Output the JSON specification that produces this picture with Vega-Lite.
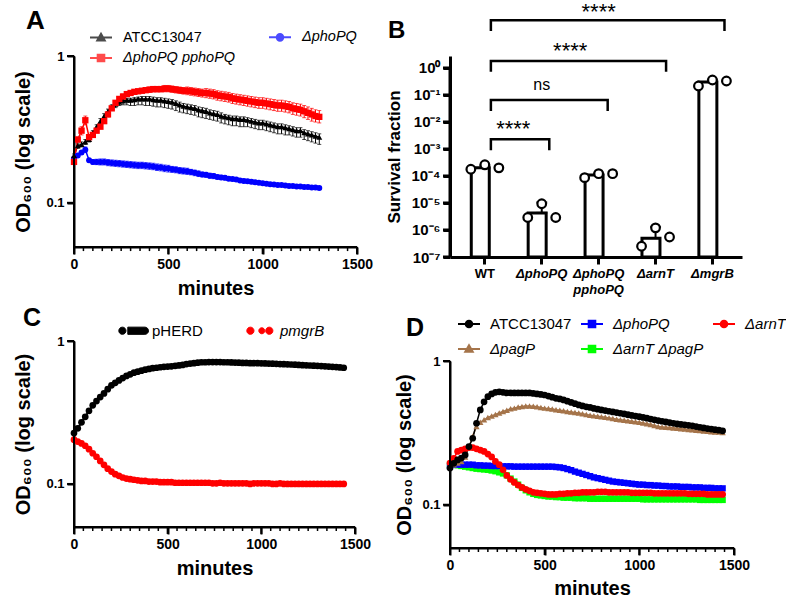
{
"$schema":"https://vega.github.io/schema/vega-lite/v6.json",
"background":"white",
"padding":{"left":13,"top":0,"right":0,"bottom":0},
"config":{
 "font":"Liberation Sans",
 "view":{"stroke":null},
 "axis":{"gridOpacity":0,"labelColor":"black","labelFont":"Liberation Sans","labelFontWeight":"bold","labelFontSize":14,"labelPadding":3,"titleColor":"black","titleFont":"Liberation Sans","titleFontWeight":"bold","titleFontSize":20,"domainColor":"black","tickColor":"black","zindex":1},
 "legend":{"labelFont":"Liberation Sans","labelColor":"black","labelFontWeight":"normal"},
 "title":{"font":"Liberation Sans","fontWeight":"bold","color":"black","anchor":"start","frame":"group","baseline":"alphabetic"}
},
"datasets":{
"majorTicks":[{"t":0},{"t":500},{"t":1000},{"t":1500}],
"minorTicks":[{"t":50},{"t":100},{"t":150},{"t":200},{"t":250},{"t":300},{"t":350},{"t":400},{"t":450},{"t":550},{"t":600},{"t":650},{"t":700},{"t":750},{"t":800},{"t":850},{"t":900},{"t":950},{"t":1050},{"t":1100},{"t":1150},{"t":1200},{"t":1250},{"t":1300},{"t":1350},{"t":1400},{"t":1450}],
"odTicks":[{"v":0.1},{"v":1}],
"survTicks":[{"v":0.0000001},{"v":0.000001},{"v":0.00001},{"v":0.0001},{"v":0.001},{"v":0.01},{"v":0.1},{"v":1}],
"one":[{"n":1}],
"growthA":[
{"s":"ATCC13047","t":0,"y":0.21,"lo":0.205,"hi":0.215},{"s":"ATCC13047","t":20,"y":0.245,"lo":0.235,"hi":0.255},{"s":"ATCC13047","t":40,"y":0.25,"lo":0.24,"hi":0.26},{"s":"ATCC13047","t":60,"y":0.26,"lo":0.25,"hi":0.27},{"s":"ATCC13047","t":80,"y":0.27,"lo":0.26,"hi":0.28},{"s":"ATCC13047","t":100,"y":0.3,"lo":0.285,"hi":0.31},{"s":"ATCC13047","t":120,"y":0.33,"lo":0.315,"hi":0.34},{"s":"ATCC13047","t":140,"y":0.36,"lo":0.345,"hi":0.375},{"s":"ATCC13047","t":160,"y":0.39,"lo":0.37,"hi":0.405},{"s":"ATCC13047","t":180,"y":0.42,"lo":0.4,"hi":0.435},{"s":"ATCC13047","t":200,"y":0.45,"lo":0.43,"hi":0.465},{"s":"ATCC13047","t":220,"y":0.47,"lo":0.445,"hi":0.485},{"s":"ATCC13047","t":240,"y":0.485,"lo":0.46,"hi":0.5},{"s":"ATCC13047","t":260,"y":0.495,"lo":0.465,"hi":0.51},{"s":"ATCC13047","t":280,"y":0.5,"lo":0.465,"hi":0.515},{"s":"ATCC13047","t":300,"y":0.5,"lo":0.46,"hi":0.515},{"s":"ATCC13047","t":320,"y":0.505,"lo":0.46,"hi":0.52},{"s":"ATCC13047","t":340,"y":0.51,"lo":0.465,"hi":0.525},{"s":"ATCC13047","t":360,"y":0.51,"lo":0.465,"hi":0.53},{"s":"ATCC13047","t":380,"y":0.51,"lo":0.46,"hi":0.53},{"s":"ATCC13047","t":400,"y":0.51,"lo":0.46,"hi":0.53},{"s":"ATCC13047","t":420,"y":0.505,"lo":0.455,"hi":0.525},{"s":"ATCC13047","t":440,"y":0.5,"lo":0.45,"hi":0.52},{"s":"ATCC13047","t":460,"y":0.5,"lo":0.45,"hi":0.52},{"s":"ATCC13047","t":480,"y":0.495,"lo":0.445,"hi":0.515},{"s":"ATCC13047","t":500,"y":0.49,"lo":0.44,"hi":0.51},{"s":"ATCC13047","t":520,"y":0.485,"lo":0.435,"hi":0.505},{"s":"ATCC13047","t":540,"y":0.475,"lo":0.425,"hi":0.495},{"s":"ATCC13047","t":560,"y":0.465,"lo":0.415,"hi":0.485},{"s":"ATCC13047","t":580,"y":0.455,"lo":0.41,"hi":0.475},{"s":"ATCC13047","t":600,"y":0.45,"lo":0.405,"hi":0.47},{"s":"ATCC13047","t":620,"y":0.445,"lo":0.4,"hi":0.465},{"s":"ATCC13047","t":640,"y":0.44,"lo":0.395,"hi":0.46},{"s":"ATCC13047","t":660,"y":0.43,"lo":0.385,"hi":0.45},{"s":"ATCC13047","t":680,"y":0.425,"lo":0.38,"hi":0.445},{"s":"ATCC13047","t":700,"y":0.42,"lo":0.375,"hi":0.44},{"s":"ATCC13047","t":720,"y":0.41,"lo":0.37,"hi":0.43},{"s":"ATCC13047","t":740,"y":0.405,"lo":0.365,"hi":0.425},{"s":"ATCC13047","t":760,"y":0.4,"lo":0.36,"hi":0.42},{"s":"ATCC13047","t":780,"y":0.39,"lo":0.35,"hi":0.41},{"s":"ATCC13047","t":800,"y":0.385,"lo":0.345,"hi":0.4},{"s":"ATCC13047","t":820,"y":0.38,"lo":0.34,"hi":0.395},{"s":"ATCC13047","t":840,"y":0.375,"lo":0.335,"hi":0.39},{"s":"ATCC13047","t":860,"y":0.375,"lo":0.335,"hi":0.39},{"s":"ATCC13047","t":880,"y":0.37,"lo":0.33,"hi":0.385},{"s":"ATCC13047","t":900,"y":0.37,"lo":0.33,"hi":0.385},{"s":"ATCC13047","t":920,"y":0.365,"lo":0.33,"hi":0.38},{"s":"ATCC13047","t":940,"y":0.36,"lo":0.325,"hi":0.375},{"s":"ATCC13047","t":960,"y":0.355,"lo":0.32,"hi":0.37},{"s":"ATCC13047","t":980,"y":0.35,"lo":0.315,"hi":0.365},{"s":"ATCC13047","t":1000,"y":0.35,"lo":0.315,"hi":0.365},{"s":"ATCC13047","t":1020,"y":0.345,"lo":0.31,"hi":0.36},{"s":"ATCC13047","t":1040,"y":0.34,"lo":0.305,"hi":0.355},{"s":"ATCC13047","t":1060,"y":0.335,"lo":0.3,"hi":0.35},{"s":"ATCC13047","t":1080,"y":0.33,"lo":0.295,"hi":0.345},{"s":"ATCC13047","t":1100,"y":0.33,"lo":0.295,"hi":0.345},{"s":"ATCC13047","t":1120,"y":0.325,"lo":0.29,"hi":0.34},{"s":"ATCC13047","t":1140,"y":0.32,"lo":0.29,"hi":0.335},{"s":"ATCC13047","t":1160,"y":0.315,"lo":0.285,"hi":0.33},{"s":"ATCC13047","t":1180,"y":0.31,"lo":0.28,"hi":0.325},{"s":"ATCC13047","t":1200,"y":0.31,"lo":0.28,"hi":0.325},{"s":"ATCC13047","t":1220,"y":0.3,"lo":0.27,"hi":0.315},{"s":"ATCC13047","t":1240,"y":0.295,"lo":0.265,"hi":0.31},{"s":"ATCC13047","t":1260,"y":0.29,"lo":0.26,"hi":0.305},{"s":"ATCC13047","t":1280,"y":0.285,"lo":0.255,"hi":0.3},{"s":"ATCC13047","t":1300,"y":0.28,"lo":0.25,"hi":0.295},
{"s":"ΔphoPQ","t":0,"y":0.2,"lo":0.195,"hi":0.205},{"s":"ΔphoPQ","t":20,"y":0.21,"lo":0.205,"hi":0.215},{"s":"ΔphoPQ","t":40,"y":0.22,"lo":0.215,"hi":0.225},{"s":"ΔphoPQ","t":60,"y":0.23,"lo":0.22,"hi":0.24},{"s":"ΔphoPQ","t":80,"y":0.195,"lo":0.19,"hi":0.2},{"s":"ΔphoPQ","t":100,"y":0.19,"lo":0.183,"hi":0.197},{"s":"ΔphoPQ","t":120,"y":0.19,"lo":0.182,"hi":0.198},{"s":"ΔphoPQ","t":140,"y":0.19,"lo":0.181,"hi":0.199},{"s":"ΔphoPQ","t":160,"y":0.19,"lo":0.181,"hi":0.199},{"s":"ΔphoPQ","t":180,"y":0.188,"lo":0.179,"hi":0.197},{"s":"ΔphoPQ","t":200,"y":0.187,"lo":0.178,"hi":0.196},{"s":"ΔphoPQ","t":220,"y":0.186,"lo":0.177,"hi":0.195},{"s":"ΔphoPQ","t":240,"y":0.185,"lo":0.176,"hi":0.194},{"s":"ΔphoPQ","t":260,"y":0.184,"lo":0.175,"hi":0.193},{"s":"ΔphoPQ","t":280,"y":0.183,"lo":0.174,"hi":0.192},{"s":"ΔphoPQ","t":300,"y":0.182,"lo":0.173,"hi":0.191},{"s":"ΔphoPQ","t":320,"y":0.181,"lo":0.172,"hi":0.19},{"s":"ΔphoPQ","t":340,"y":0.18,"lo":0.171,"hi":0.189},{"s":"ΔphoPQ","t":360,"y":0.18,"lo":0.171,"hi":0.189},{"s":"ΔphoPQ","t":380,"y":0.179,"lo":0.17,"hi":0.188},{"s":"ΔphoPQ","t":400,"y":0.178,"lo":0.169,"hi":0.187},{"s":"ΔphoPQ","t":420,"y":0.177,"lo":0.168,"hi":0.186},{"s":"ΔphoPQ","t":440,"y":0.175,"lo":0.166,"hi":0.184},{"s":"ΔphoPQ","t":460,"y":0.174,"lo":0.165,"hi":0.183},{"s":"ΔphoPQ","t":480,"y":0.172,"lo":0.163,"hi":0.181},{"s":"ΔphoPQ","t":500,"y":0.171,"lo":0.162,"hi":0.18},{"s":"ΔphoPQ","t":520,"y":0.169,"lo":0.161,"hi":0.177},{"s":"ΔphoPQ","t":540,"y":0.168,"lo":0.16,"hi":0.176},{"s":"ΔphoPQ","t":560,"y":0.166,"lo":0.158,"hi":0.174},{"s":"ΔphoPQ","t":580,"y":0.165,"lo":0.157,"hi":0.173},{"s":"ΔphoPQ","t":600,"y":0.164,"lo":0.156,"hi":0.172},{"s":"ΔphoPQ","t":620,"y":0.162,"lo":0.155,"hi":0.169},{"s":"ΔphoPQ","t":640,"y":0.16,"lo":0.153,"hi":0.167},{"s":"ΔphoPQ","t":660,"y":0.158,"lo":0.151,"hi":0.165},{"s":"ΔphoPQ","t":680,"y":0.156,"lo":0.15,"hi":0.162},{"s":"ΔphoPQ","t":700,"y":0.155,"lo":0.149,"hi":0.161},{"s":"ΔphoPQ","t":720,"y":0.153,"lo":0.147,"hi":0.159},{"s":"ΔphoPQ","t":740,"y":0.152,"lo":0.146,"hi":0.158},{"s":"ΔphoPQ","t":760,"y":0.15,"lo":0.145,"hi":0.155},{"s":"ΔphoPQ","t":780,"y":0.149,"lo":0.144,"hi":0.154},{"s":"ΔphoPQ","t":800,"y":0.148,"lo":0.143,"hi":0.153},{"s":"ΔphoPQ","t":820,"y":0.146,"lo":0.142,"hi":0.15},{"s":"ΔphoPQ","t":840,"y":0.145,"lo":0.141,"hi":0.149},{"s":"ΔphoPQ","t":860,"y":0.144,"lo":0.14,"hi":0.148},{"s":"ΔphoPQ","t":880,"y":0.142,"lo":0.138,"hi":0.146},{"s":"ΔphoPQ","t":900,"y":0.141,"lo":0.137,"hi":0.145},{"s":"ΔphoPQ","t":920,"y":0.14,"lo":0.136,"hi":0.144},{"s":"ΔphoPQ","t":940,"y":0.139,"lo":0.135,"hi":0.143},{"s":"ΔphoPQ","t":960,"y":0.138,"lo":0.134,"hi":0.142},{"s":"ΔphoPQ","t":980,"y":0.137,"lo":0.134,"hi":0.14},{"s":"ΔphoPQ","t":1000,"y":0.136,"lo":0.133,"hi":0.139},{"s":"ΔphoPQ","t":1020,"y":0.135,"lo":0.132,"hi":0.138},{"s":"ΔphoPQ","t":1040,"y":0.134,"lo":0.131,"hi":0.137},{"s":"ΔphoPQ","t":1060,"y":0.133,"lo":0.13,"hi":0.136},{"s":"ΔphoPQ","t":1080,"y":0.132,"lo":0.129,"hi":0.135},{"s":"ΔphoPQ","t":1100,"y":0.132,"lo":0.129,"hi":0.135},{"s":"ΔphoPQ","t":1120,"y":0.131,"lo":0.128,"hi":0.134},{"s":"ΔphoPQ","t":1140,"y":0.13,"lo":0.127,"hi":0.133},{"s":"ΔphoPQ","t":1160,"y":0.13,"lo":0.127,"hi":0.133},{"s":"ΔphoPQ","t":1180,"y":0.129,"lo":0.126,"hi":0.132},{"s":"ΔphoPQ","t":1200,"y":0.129,"lo":0.126,"hi":0.132},{"s":"ΔphoPQ","t":1220,"y":0.128,"lo":0.125,"hi":0.131},{"s":"ΔphoPQ","t":1240,"y":0.128,"lo":0.125,"hi":0.131},{"s":"ΔphoPQ","t":1260,"y":0.127,"lo":0.124,"hi":0.13},{"s":"ΔphoPQ","t":1280,"y":0.127,"lo":0.124,"hi":0.13},{"s":"ΔphoPQ","t":1300,"y":0.126,"lo":0.123,"hi":0.129},
{"s":"ΔphoPQ pphoPQ","t":0,"y":0.19,"lo":0.185,"hi":0.195},{"s":"ΔphoPQ pphoPQ","t":20,"y":0.27,"lo":0.26,"hi":0.28},{"s":"ΔphoPQ pphoPQ","t":40,"y":0.31,"lo":0.29,"hi":0.33},{"s":"ΔphoPQ pphoPQ","t":60,"y":0.365,"lo":0.34,"hi":0.39},{"s":"ΔphoPQ pphoPQ","t":80,"y":0.28,"lo":0.27,"hi":0.29},{"s":"ΔphoPQ pphoPQ","t":100,"y":0.29,"lo":0.28,"hi":0.3},{"s":"ΔphoPQ pphoPQ","t":120,"y":0.31,"lo":0.3,"hi":0.32},{"s":"ΔphoPQ pphoPQ","t":140,"y":0.33,"lo":0.32,"hi":0.34},{"s":"ΔphoPQ pphoPQ","t":160,"y":0.36,"lo":0.35,"hi":0.37},{"s":"ΔphoPQ pphoPQ","t":180,"y":0.4,"lo":0.385,"hi":0.415},{"s":"ΔphoPQ pphoPQ","t":200,"y":0.44,"lo":0.425,"hi":0.455},{"s":"ΔphoPQ pphoPQ","t":220,"y":0.48,"lo":0.465,"hi":0.495},{"s":"ΔphoPQ pphoPQ","t":240,"y":0.51,"lo":0.49,"hi":0.53},{"s":"ΔphoPQ pphoPQ","t":260,"y":0.53,"lo":0.51,"hi":0.55},{"s":"ΔphoPQ pphoPQ","t":280,"y":0.55,"lo":0.53,"hi":0.57},{"s":"ΔphoPQ pphoPQ","t":300,"y":0.56,"lo":0.54,"hi":0.58},{"s":"ΔphoPQ pphoPQ","t":320,"y":0.57,"lo":0.55,"hi":0.59},{"s":"ΔphoPQ pphoPQ","t":340,"y":0.575,"lo":0.555,"hi":0.595},{"s":"ΔphoPQ pphoPQ","t":360,"y":0.58,"lo":0.56,"hi":0.6},{"s":"ΔphoPQ pphoPQ","t":380,"y":0.585,"lo":0.565,"hi":0.605},{"s":"ΔphoPQ pphoPQ","t":400,"y":0.59,"lo":0.565,"hi":0.615},{"s":"ΔphoPQ pphoPQ","t":420,"y":0.595,"lo":0.57,"hi":0.62},{"s":"ΔphoPQ pphoPQ","t":440,"y":0.595,"lo":0.57,"hi":0.62},{"s":"ΔphoPQ pphoPQ","t":460,"y":0.595,"lo":0.57,"hi":0.62},{"s":"ΔphoPQ pphoPQ","t":480,"y":0.6,"lo":0.57,"hi":0.63},{"s":"ΔphoPQ pphoPQ","t":500,"y":0.6,"lo":0.57,"hi":0.63},{"s":"ΔphoPQ pphoPQ","t":520,"y":0.595,"lo":0.565,"hi":0.625},{"s":"ΔphoPQ pphoPQ","t":540,"y":0.59,"lo":0.56,"hi":0.62},{"s":"ΔphoPQ pphoPQ","t":560,"y":0.585,"lo":0.555,"hi":0.615},{"s":"ΔphoPQ pphoPQ","t":580,"y":0.58,"lo":0.55,"hi":0.61},{"s":"ΔphoPQ pphoPQ","t":600,"y":0.58,"lo":0.545,"hi":0.615},{"s":"ΔphoPQ pphoPQ","t":620,"y":0.575,"lo":0.54,"hi":0.61},{"s":"ΔphoPQ pphoPQ","t":640,"y":0.57,"lo":0.535,"hi":0.605},{"s":"ΔphoPQ pphoPQ","t":660,"y":0.565,"lo":0.53,"hi":0.6},{"s":"ΔphoPQ pphoPQ","t":680,"y":0.56,"lo":0.525,"hi":0.595},{"s":"ΔphoPQ pphoPQ","t":700,"y":0.56,"lo":0.52,"hi":0.6},{"s":"ΔphoPQ pphoPQ","t":720,"y":0.555,"lo":0.515,"hi":0.595},{"s":"ΔphoPQ pphoPQ","t":740,"y":0.55,"lo":0.51,"hi":0.59},{"s":"ΔphoPQ pphoPQ","t":760,"y":0.54,"lo":0.5,"hi":0.58},{"s":"ΔphoPQ pphoPQ","t":780,"y":0.535,"lo":0.495,"hi":0.575},{"s":"ΔphoPQ pphoPQ","t":800,"y":0.53,"lo":0.49,"hi":0.57},{"s":"ΔphoPQ pphoPQ","t":820,"y":0.525,"lo":0.485,"hi":0.565},{"s":"ΔphoPQ pphoPQ","t":840,"y":0.515,"lo":0.475,"hi":0.555},{"s":"ΔphoPQ pphoPQ","t":860,"y":0.51,"lo":0.47,"hi":0.55},{"s":"ΔphoPQ pphoPQ","t":880,"y":0.505,"lo":0.465,"hi":0.545},{"s":"ΔphoPQ pphoPQ","t":900,"y":0.5,"lo":0.46,"hi":0.54},{"s":"ΔphoPQ pphoPQ","t":920,"y":0.495,"lo":0.455,"hi":0.535},{"s":"ΔphoPQ pphoPQ","t":940,"y":0.49,"lo":0.45,"hi":0.53},{"s":"ΔphoPQ pphoPQ","t":960,"y":0.485,"lo":0.445,"hi":0.525},{"s":"ΔphoPQ pphoPQ","t":980,"y":0.48,"lo":0.44,"hi":0.52},{"s":"ΔphoPQ pphoPQ","t":1000,"y":0.48,"lo":0.44,"hi":0.52},{"s":"ΔphoPQ pphoPQ","t":1020,"y":0.475,"lo":0.435,"hi":0.515},{"s":"ΔphoPQ pphoPQ","t":1040,"y":0.47,"lo":0.43,"hi":0.51},{"s":"ΔphoPQ pphoPQ","t":1060,"y":0.465,"lo":0.425,"hi":0.505},{"s":"ΔphoPQ pphoPQ","t":1080,"y":0.46,"lo":0.42,"hi":0.5},{"s":"ΔphoPQ pphoPQ","t":1100,"y":0.46,"lo":0.42,"hi":0.5},{"s":"ΔphoPQ pphoPQ","t":1120,"y":0.455,"lo":0.415,"hi":0.495},{"s":"ΔphoPQ pphoPQ","t":1140,"y":0.45,"lo":0.41,"hi":0.49},{"s":"ΔphoPQ pphoPQ","t":1160,"y":0.44,"lo":0.4,"hi":0.48},{"s":"ΔphoPQ pphoPQ","t":1180,"y":0.435,"lo":0.395,"hi":0.475},{"s":"ΔphoPQ pphoPQ","t":1200,"y":0.43,"lo":0.39,"hi":0.47},{"s":"ΔphoPQ pphoPQ","t":1220,"y":0.42,"lo":0.38,"hi":0.46},{"s":"ΔphoPQ pphoPQ","t":1240,"y":0.41,"lo":0.37,"hi":0.45},{"s":"ΔphoPQ pphoPQ","t":1260,"y":0.4,"lo":0.36,"hi":0.44},{"s":"ΔphoPQ pphoPQ","t":1280,"y":0.39,"lo":0.355,"hi":0.43},{"s":"ΔphoPQ pphoPQ","t":1300,"y":0.385,"lo":0.35,"hi":0.425}
],
"growthC":[
{"s":"pHERD","t":0,"y":0.227},{"s":"pHERD","t":20,"y":0.245},{"s":"pHERD","t":40,"y":0.27},{"s":"pHERD","t":60,"y":0.295},{"s":"pHERD","t":80,"y":0.325},{"s":"pHERD","t":100,"y":0.355},{"s":"pHERD","t":120,"y":0.38},{"s":"pHERD","t":140,"y":0.405},{"s":"pHERD","t":160,"y":0.43},{"s":"pHERD","t":180,"y":0.46},{"s":"pHERD","t":200,"y":0.49},{"s":"pHERD","t":220,"y":0.51},{"s":"pHERD","t":240,"y":0.53},{"s":"pHERD","t":260,"y":0.55},{"s":"pHERD","t":280,"y":0.57},{"s":"pHERD","t":300,"y":0.585},{"s":"pHERD","t":320,"y":0.6},{"s":"pHERD","t":340,"y":0.61},{"s":"pHERD","t":360,"y":0.62},{"s":"pHERD","t":380,"y":0.63},{"s":"pHERD","t":400,"y":0.638},{"s":"pHERD","t":420,"y":0.645},{"s":"pHERD","t":440,"y":0.65},{"s":"pHERD","t":460,"y":0.655},{"s":"pHERD","t":480,"y":0.66},{"s":"pHERD","t":500,"y":0.662},{"s":"pHERD","t":520,"y":0.665},{"s":"pHERD","t":540,"y":0.67},{"s":"pHERD","t":560,"y":0.675},{"s":"pHERD","t":580,"y":0.68},{"s":"pHERD","t":600,"y":0.69},{"s":"pHERD","t":620,"y":0.695},{"s":"pHERD","t":640,"y":0.7},{"s":"pHERD","t":660,"y":0.705},{"s":"pHERD","t":680,"y":0.71},{"s":"pHERD","t":700,"y":0.71},{"s":"pHERD","t":720,"y":0.712},{"s":"pHERD","t":740,"y":0.712},{"s":"pHERD","t":760,"y":0.712},{"s":"pHERD","t":780,"y":0.712},{"s":"pHERD","t":800,"y":0.71},{"s":"pHERD","t":820,"y":0.71},{"s":"pHERD","t":840,"y":0.708},{"s":"pHERD","t":860,"y":0.707},{"s":"pHERD","t":880,"y":0.705},{"s":"pHERD","t":900,"y":0.703},{"s":"pHERD","t":920,"y":0.703},{"s":"pHERD","t":940,"y":0.7},{"s":"pHERD","t":960,"y":0.7},{"s":"pHERD","t":980,"y":0.7},{"s":"pHERD","t":1000,"y":0.698},{"s":"pHERD","t":1020,"y":0.697},{"s":"pHERD","t":1040,"y":0.695},{"s":"pHERD","t":1060,"y":0.694},{"s":"pHERD","t":1080,"y":0.692},{"s":"pHERD","t":1100,"y":0.69},{"s":"pHERD","t":1120,"y":0.688},{"s":"pHERD","t":1140,"y":0.687},{"s":"pHERD","t":1160,"y":0.685},{"s":"pHERD","t":1180,"y":0.683},{"s":"pHERD","t":1200,"y":0.68},{"s":"pHERD","t":1220,"y":0.678},{"s":"pHERD","t":1240,"y":0.676},{"s":"pHERD","t":1260,"y":0.674},{"s":"pHERD","t":1280,"y":0.672},{"s":"pHERD","t":1300,"y":0.67},{"s":"pHERD","t":1320,"y":0.668},{"s":"pHERD","t":1340,"y":0.665},{"s":"pHERD","t":1360,"y":0.662},{"s":"pHERD","t":1380,"y":0.66},{"s":"pHERD","t":1400,"y":0.657},{"s":"pHERD","t":1420,"y":0.653},{"s":"pHERD","t":1440,"y":0.65},
{"s":"pmgrB","t":0,"y":0.204},{"s":"pmgrB","t":20,"y":0.198},{"s":"pmgrB","t":40,"y":0.192},{"s":"pmgrB","t":60,"y":0.185},{"s":"pmgrB","t":80,"y":0.175},{"s":"pmgrB","t":100,"y":0.164},{"s":"pmgrB","t":120,"y":0.155},{"s":"pmgrB","t":140,"y":0.145},{"s":"pmgrB","t":160,"y":0.136},{"s":"pmgrB","t":180,"y":0.128},{"s":"pmgrB","t":200,"y":0.122},{"s":"pmgrB","t":220,"y":0.117},{"s":"pmgrB","t":240,"y":0.114},{"s":"pmgrB","t":260,"y":0.111},{"s":"pmgrB","t":280,"y":0.109},{"s":"pmgrB","t":300,"y":0.108},{"s":"pmgrB","t":320,"y":0.107},{"s":"pmgrB","t":340,"y":0.106},{"s":"pmgrB","t":360,"y":0.105},{"s":"pmgrB","t":380,"y":0.105},{"s":"pmgrB","t":400,"y":0.104},{"s":"pmgrB","t":420,"y":0.104},{"s":"pmgrB","t":440,"y":0.104},{"s":"pmgrB","t":460,"y":0.103},{"s":"pmgrB","t":480,"y":0.103},{"s":"pmgrB","t":500,"y":0.103},{"s":"pmgrB","t":520,"y":0.103},{"s":"pmgrB","t":540,"y":0.102},{"s":"pmgrB","t":560,"y":0.102},{"s":"pmgrB","t":580,"y":0.102},{"s":"pmgrB","t":600,"y":0.102},{"s":"pmgrB","t":620,"y":0.102},{"s":"pmgrB","t":640,"y":0.102},{"s":"pmgrB","t":660,"y":0.102},{"s":"pmgrB","t":680,"y":0.102},{"s":"pmgrB","t":700,"y":0.102},{"s":"pmgrB","t":720,"y":0.102},{"s":"pmgrB","t":740,"y":0.101},{"s":"pmgrB","t":760,"y":0.101},{"s":"pmgrB","t":780,"y":0.102},{"s":"pmgrB","t":800,"y":0.101},{"s":"pmgrB","t":820,"y":0.101},{"s":"pmgrB","t":840,"y":0.101},{"s":"pmgrB","t":860,"y":0.101},{"s":"pmgrB","t":880,"y":0.101},{"s":"pmgrB","t":900,"y":0.101},{"s":"pmgrB","t":920,"y":0.101},{"s":"pmgrB","t":940,"y":0.1},{"s":"pmgrB","t":960,"y":0.101},{"s":"pmgrB","t":980,"y":0.101},{"s":"pmgrB","t":1000,"y":0.101},{"s":"pmgrB","t":1020,"y":0.101},{"s":"pmgrB","t":1040,"y":0.101},{"s":"pmgrB","t":1060,"y":0.1},{"s":"pmgrB","t":1080,"y":0.1},{"s":"pmgrB","t":1100,"y":0.101},{"s":"pmgrB","t":1120,"y":0.1},{"s":"pmgrB","t":1140,"y":0.1},{"s":"pmgrB","t":1160,"y":0.1},{"s":"pmgrB","t":1180,"y":0.1},{"s":"pmgrB","t":1200,"y":0.1},{"s":"pmgrB","t":1220,"y":0.1},{"s":"pmgrB","t":1240,"y":0.1},{"s":"pmgrB","t":1260,"y":0.1},{"s":"pmgrB","t":1280,"y":0.1},{"s":"pmgrB","t":1300,"y":0.1},{"s":"pmgrB","t":1320,"y":0.1},{"s":"pmgrB","t":1340,"y":0.1},{"s":"pmgrB","t":1360,"y":0.1},{"s":"pmgrB","t":1380,"y":0.1},{"s":"pmgrB","t":1400,"y":0.1},{"s":"pmgrB","t":1420,"y":0.1},{"s":"pmgrB","t":1440,"y":0.1}
],
"growthD":[
{"s":"ΔarnT ΔpagP","t":0,"y":0.19},{"s":"ΔarnT ΔpagP","t":20,"y":0.19},{"s":"ΔarnT ΔpagP","t":40,"y":0.188},{"s":"ΔarnT ΔpagP","t":60,"y":0.186},{"s":"ΔarnT ΔpagP","t":80,"y":0.184},{"s":"ΔarnT ΔpagP","t":100,"y":0.182},{"s":"ΔarnT ΔpagP","t":120,"y":0.18},{"s":"ΔarnT ΔpagP","t":140,"y":0.178},{"s":"ΔarnT ΔpagP","t":160,"y":0.177},{"s":"ΔarnT ΔpagP","t":180,"y":0.176},{"s":"ΔarnT ΔpagP","t":200,"y":0.175},{"s":"ΔarnT ΔpagP","t":220,"y":0.173},{"s":"ΔarnT ΔpagP","t":240,"y":0.171},{"s":"ΔarnT ΔpagP","t":260,"y":0.168},{"s":"ΔarnT ΔpagP","t":280,"y":0.165},{"s":"ΔarnT ΔpagP","t":300,"y":0.16},{"s":"ΔarnT ΔpagP","t":320,"y":0.152},{"s":"ΔarnT ΔpagP","t":340,"y":0.145},{"s":"ΔarnT ΔpagP","t":360,"y":0.138},{"s":"ΔarnT ΔpagP","t":380,"y":0.131},{"s":"ΔarnT ΔpagP","t":400,"y":0.126},{"s":"ΔarnT ΔpagP","t":420,"y":0.122},{"s":"ΔarnT ΔpagP","t":440,"y":0.119},{"s":"ΔarnT ΔpagP","t":460,"y":0.117},{"s":"ΔarnT ΔpagP","t":480,"y":0.116},{"s":"ΔarnT ΔpagP","t":500,"y":0.115},{"s":"ΔarnT ΔpagP","t":520,"y":0.114},{"s":"ΔarnT ΔpagP","t":540,"y":0.114},{"s":"ΔarnT ΔpagP","t":560,"y":0.113},{"s":"ΔarnT ΔpagP","t":580,"y":0.113},{"s":"ΔarnT ΔpagP","t":600,"y":0.112},{"s":"ΔarnT ΔpagP","t":620,"y":0.112},{"s":"ΔarnT ΔpagP","t":640,"y":0.112},{"s":"ΔarnT ΔpagP","t":660,"y":0.111},{"s":"ΔarnT ΔpagP","t":680,"y":0.111},{"s":"ΔarnT ΔpagP","t":700,"y":0.111},{"s":"ΔarnT ΔpagP","t":720,"y":0.111},{"s":"ΔarnT ΔpagP","t":740,"y":0.11},{"s":"ΔarnT ΔpagP","t":760,"y":0.11},{"s":"ΔarnT ΔpagP","t":780,"y":0.11},{"s":"ΔarnT ΔpagP","t":800,"y":0.11},{"s":"ΔarnT ΔpagP","t":820,"y":0.11},{"s":"ΔarnT ΔpagP","t":840,"y":0.11},{"s":"ΔarnT ΔpagP","t":860,"y":0.11},{"s":"ΔarnT ΔpagP","t":880,"y":0.11},{"s":"ΔarnT ΔpagP","t":900,"y":0.11},{"s":"ΔarnT ΔpagP","t":920,"y":0.11},{"s":"ΔarnT ΔpagP","t":940,"y":0.11},{"s":"ΔarnT ΔpagP","t":960,"y":0.11},{"s":"ΔarnT ΔpagP","t":980,"y":0.11},{"s":"ΔarnT ΔpagP","t":1000,"y":0.11},{"s":"ΔarnT ΔpagP","t":1020,"y":0.109},{"s":"ΔarnT ΔpagP","t":1040,"y":0.109},{"s":"ΔarnT ΔpagP","t":1060,"y":0.109},{"s":"ΔarnT ΔpagP","t":1080,"y":0.109},{"s":"ΔarnT ΔpagP","t":1100,"y":0.109},{"s":"ΔarnT ΔpagP","t":1120,"y":0.109},{"s":"ΔarnT ΔpagP","t":1140,"y":0.109},{"s":"ΔarnT ΔpagP","t":1160,"y":0.109},{"s":"ΔarnT ΔpagP","t":1180,"y":0.109},{"s":"ΔarnT ΔpagP","t":1200,"y":0.109},{"s":"ΔarnT ΔpagP","t":1220,"y":0.109},{"s":"ΔarnT ΔpagP","t":1240,"y":0.109},{"s":"ΔarnT ΔpagP","t":1260,"y":0.109},{"s":"ΔarnT ΔpagP","t":1280,"y":0.109},{"s":"ΔarnT ΔpagP","t":1300,"y":0.109},{"s":"ΔarnT ΔpagP","t":1320,"y":0.108},{"s":"ΔarnT ΔpagP","t":1340,"y":0.108},{"s":"ΔarnT ΔpagP","t":1360,"y":0.108},{"s":"ΔarnT ΔpagP","t":1380,"y":0.108},{"s":"ΔarnT ΔpagP","t":1400,"y":0.108},{"s":"ΔarnT ΔpagP","t":1420,"y":0.108},{"s":"ΔarnT ΔpagP","t":1440,"y":0.108},
{"s":"ΔpagP","t":0,"y":0.185},{"s":"ΔpagP","t":20,"y":0.19},{"s":"ΔpagP","t":40,"y":0.195},{"s":"ΔpagP","t":60,"y":0.2},{"s":"ΔpagP","t":80,"y":0.215},{"s":"ΔpagP","t":100,"y":0.25},{"s":"ΔpagP","t":120,"y":0.3},{"s":"ΔpagP","t":140,"y":0.35},{"s":"ΔpagP","t":160,"y":0.375},{"s":"ΔpagP","t":180,"y":0.39},{"s":"ΔpagP","t":200,"y":0.405},{"s":"ΔpagP","t":220,"y":0.415},{"s":"ΔpagP","t":240,"y":0.425},{"s":"ΔpagP","t":260,"y":0.435},{"s":"ΔpagP","t":280,"y":0.445},{"s":"ΔpagP","t":300,"y":0.455},{"s":"ΔpagP","t":320,"y":0.465},{"s":"ΔpagP","t":340,"y":0.47},{"s":"ΔpagP","t":360,"y":0.478},{"s":"ΔpagP","t":380,"y":0.483},{"s":"ΔpagP","t":400,"y":0.487},{"s":"ΔpagP","t":420,"y":0.487},{"s":"ΔpagP","t":440,"y":0.485},{"s":"ΔpagP","t":460,"y":0.48},{"s":"ΔpagP","t":480,"y":0.475},{"s":"ΔpagP","t":500,"y":0.47},{"s":"ΔpagP","t":520,"y":0.467},{"s":"ΔpagP","t":540,"y":0.463},{"s":"ΔpagP","t":560,"y":0.458},{"s":"ΔpagP","t":580,"y":0.454},{"s":"ΔpagP","t":600,"y":0.45},{"s":"ΔpagP","t":620,"y":0.446},{"s":"ΔpagP","t":640,"y":0.442},{"s":"ΔpagP","t":660,"y":0.438},{"s":"ΔpagP","t":680,"y":0.434},{"s":"ΔpagP","t":700,"y":0.43},{"s":"ΔpagP","t":720,"y":0.425},{"s":"ΔpagP","t":740,"y":0.42},{"s":"ΔpagP","t":760,"y":0.416},{"s":"ΔpagP","t":780,"y":0.413},{"s":"ΔpagP","t":800,"y":0.41},{"s":"ΔpagP","t":820,"y":0.406},{"s":"ΔpagP","t":840,"y":0.402},{"s":"ΔpagP","t":860,"y":0.398},{"s":"ΔpagP","t":880,"y":0.394},{"s":"ΔpagP","t":900,"y":0.39},{"s":"ΔpagP","t":920,"y":0.387},{"s":"ΔpagP","t":940,"y":0.384},{"s":"ΔpagP","t":960,"y":0.381},{"s":"ΔpagP","t":980,"y":0.378},{"s":"ΔpagP","t":1000,"y":0.375},{"s":"ΔpagP","t":1020,"y":0.37},{"s":"ΔpagP","t":1040,"y":0.366},{"s":"ΔpagP","t":1060,"y":0.362},{"s":"ΔpagP","t":1080,"y":0.356},{"s":"ΔpagP","t":1100,"y":0.35},{"s":"ΔpagP","t":1120,"y":0.348},{"s":"ΔpagP","t":1140,"y":0.346},{"s":"ΔpagP","t":1160,"y":0.344},{"s":"ΔpagP","t":1180,"y":0.342},{"s":"ΔpagP","t":1200,"y":0.34},{"s":"ΔpagP","t":1220,"y":0.338},{"s":"ΔpagP","t":1240,"y":0.336},{"s":"ΔpagP","t":1260,"y":0.334},{"s":"ΔpagP","t":1280,"y":0.332},{"s":"ΔpagP","t":1300,"y":0.33},{"s":"ΔpagP","t":1320,"y":0.328},{"s":"ΔpagP","t":1340,"y":0.326},{"s":"ΔpagP","t":1360,"y":0.324},{"s":"ΔpagP","t":1380,"y":0.322},{"s":"ΔpagP","t":1400,"y":0.321},{"s":"ΔpagP","t":1420,"y":0.32},{"s":"ΔpagP","t":1440,"y":0.318},
{"s":"ΔphoPQ","t":0,"y":0.185},{"s":"ΔphoPQ","t":20,"y":0.19},{"s":"ΔphoPQ","t":40,"y":0.19},{"s":"ΔphoPQ","t":60,"y":0.19},{"s":"ΔphoPQ","t":80,"y":0.19},{"s":"ΔphoPQ","t":100,"y":0.19},{"s":"ΔphoPQ","t":120,"y":0.19},{"s":"ΔphoPQ","t":140,"y":0.188},{"s":"ΔphoPQ","t":160,"y":0.188},{"s":"ΔphoPQ","t":180,"y":0.187},{"s":"ΔphoPQ","t":200,"y":0.187},{"s":"ΔphoPQ","t":220,"y":0.186},{"s":"ΔphoPQ","t":240,"y":0.186},{"s":"ΔphoPQ","t":260,"y":0.186},{"s":"ΔphoPQ","t":280,"y":0.185},{"s":"ΔphoPQ","t":300,"y":0.185},{"s":"ΔphoPQ","t":320,"y":0.185},{"s":"ΔphoPQ","t":340,"y":0.184},{"s":"ΔphoPQ","t":360,"y":0.184},{"s":"ΔphoPQ","t":380,"y":0.184},{"s":"ΔphoPQ","t":400,"y":0.184},{"s":"ΔphoPQ","t":420,"y":0.184},{"s":"ΔphoPQ","t":440,"y":0.184},{"s":"ΔphoPQ","t":460,"y":0.184},{"s":"ΔphoPQ","t":480,"y":0.184},{"s":"ΔphoPQ","t":500,"y":0.184},{"s":"ΔphoPQ","t":520,"y":0.184},{"s":"ΔphoPQ","t":540,"y":0.184},{"s":"ΔphoPQ","t":560,"y":0.183},{"s":"ΔphoPQ","t":580,"y":0.182},{"s":"ΔphoPQ","t":600,"y":0.18},{"s":"ΔphoPQ","t":620,"y":0.177},{"s":"ΔphoPQ","t":640,"y":0.174},{"s":"ΔphoPQ","t":660,"y":0.17},{"s":"ΔphoPQ","t":680,"y":0.167},{"s":"ΔphoPQ","t":700,"y":0.164},{"s":"ΔphoPQ","t":720,"y":0.161},{"s":"ΔphoPQ","t":740,"y":0.158},{"s":"ΔphoPQ","t":760,"y":0.155},{"s":"ΔphoPQ","t":780,"y":0.153},{"s":"ΔphoPQ","t":800,"y":0.151},{"s":"ΔphoPQ","t":820,"y":0.149},{"s":"ΔphoPQ","t":840,"y":0.147},{"s":"ΔphoPQ","t":860,"y":0.145},{"s":"ΔphoPQ","t":880,"y":0.144},{"s":"ΔphoPQ","t":900,"y":0.143},{"s":"ΔphoPQ","t":920,"y":0.142},{"s":"ΔphoPQ","t":940,"y":0.141},{"s":"ΔphoPQ","t":960,"y":0.14},{"s":"ΔphoPQ","t":980,"y":0.139},{"s":"ΔphoPQ","t":1000,"y":0.138},{"s":"ΔphoPQ","t":1020,"y":0.138},{"s":"ΔphoPQ","t":1040,"y":0.137},{"s":"ΔphoPQ","t":1060,"y":0.137},{"s":"ΔphoPQ","t":1080,"y":0.136},{"s":"ΔphoPQ","t":1100,"y":0.136},{"s":"ΔphoPQ","t":1120,"y":0.135},{"s":"ΔphoPQ","t":1140,"y":0.135},{"s":"ΔphoPQ","t":1160,"y":0.134},{"s":"ΔphoPQ","t":1180,"y":0.134},{"s":"ΔphoPQ","t":1200,"y":0.134},{"s":"ΔphoPQ","t":1220,"y":0.133},{"s":"ΔphoPQ","t":1240,"y":0.133},{"s":"ΔphoPQ","t":1260,"y":0.133},{"s":"ΔphoPQ","t":1280,"y":0.132},{"s":"ΔphoPQ","t":1300,"y":0.132},{"s":"ΔphoPQ","t":1320,"y":0.132},{"s":"ΔphoPQ","t":1340,"y":0.131},{"s":"ΔphoPQ","t":1360,"y":0.131},{"s":"ΔphoPQ","t":1380,"y":0.131},{"s":"ΔphoPQ","t":1400,"y":0.13},{"s":"ΔphoPQ","t":1420,"y":0.13},{"s":"ΔphoPQ","t":1440,"y":0.13},
{"s":"ΔarnT","t":0,"y":0.195},{"s":"ΔarnT","t":20,"y":0.21},{"s":"ΔarnT","t":40,"y":0.235},{"s":"ΔarnT","t":60,"y":0.24},{"s":"ΔarnT","t":80,"y":0.245},{"s":"ΔarnT","t":100,"y":0.25},{"s":"ΔarnT","t":120,"y":0.25},{"s":"ΔarnT","t":140,"y":0.245},{"s":"ΔarnT","t":160,"y":0.24},{"s":"ΔarnT","t":180,"y":0.235},{"s":"ΔarnT","t":200,"y":0.225},{"s":"ΔarnT","t":220,"y":0.215},{"s":"ΔarnT","t":240,"y":0.2},{"s":"ΔarnT","t":260,"y":0.19},{"s":"ΔarnT","t":280,"y":0.175},{"s":"ΔarnT","t":300,"y":0.16},{"s":"ΔarnT","t":320,"y":0.15},{"s":"ΔarnT","t":340,"y":0.143},{"s":"ΔarnT","t":360,"y":0.137},{"s":"ΔarnT","t":380,"y":0.132},{"s":"ΔarnT","t":400,"y":0.128},{"s":"ΔarnT","t":420,"y":0.125},{"s":"ΔarnT","t":440,"y":0.122},{"s":"ΔarnT","t":460,"y":0.121},{"s":"ΔarnT","t":480,"y":0.12},{"s":"ΔarnT","t":500,"y":0.119},{"s":"ΔarnT","t":520,"y":0.118},{"s":"ΔarnT","t":540,"y":0.118},{"s":"ΔarnT","t":560,"y":0.118},{"s":"ΔarnT","t":580,"y":0.119},{"s":"ΔarnT","t":600,"y":0.119},{"s":"ΔarnT","t":620,"y":0.12},{"s":"ΔarnT","t":640,"y":0.12},{"s":"ΔarnT","t":660,"y":0.121},{"s":"ΔarnT","t":680,"y":0.121},{"s":"ΔarnT","t":700,"y":0.122},{"s":"ΔarnT","t":720,"y":0.122},{"s":"ΔarnT","t":740,"y":0.122},{"s":"ΔarnT","t":760,"y":0.122},{"s":"ΔarnT","t":780,"y":0.123},{"s":"ΔarnT","t":800,"y":0.123},{"s":"ΔarnT","t":820,"y":0.123},{"s":"ΔarnT","t":840,"y":0.122},{"s":"ΔarnT","t":860,"y":0.122},{"s":"ΔarnT","t":880,"y":0.122},{"s":"ΔarnT","t":900,"y":0.122},{"s":"ΔarnT","t":920,"y":0.122},{"s":"ΔarnT","t":940,"y":0.122},{"s":"ΔarnT","t":960,"y":0.121},{"s":"ΔarnT","t":980,"y":0.121},{"s":"ΔarnT","t":1000,"y":0.121},{"s":"ΔarnT","t":1020,"y":0.121},{"s":"ΔarnT","t":1040,"y":0.121},{"s":"ΔarnT","t":1060,"y":0.121},{"s":"ΔarnT","t":1080,"y":0.12},{"s":"ΔarnT","t":1100,"y":0.12},{"s":"ΔarnT","t":1120,"y":0.12},{"s":"ΔarnT","t":1140,"y":0.12},{"s":"ΔarnT","t":1160,"y":0.12},{"s":"ΔarnT","t":1180,"y":0.12},{"s":"ΔarnT","t":1200,"y":0.12},{"s":"ΔarnT","t":1220,"y":0.12},{"s":"ΔarnT","t":1240,"y":0.12},{"s":"ΔarnT","t":1260,"y":0.119},{"s":"ΔarnT","t":1280,"y":0.119},{"s":"ΔarnT","t":1300,"y":0.119},{"s":"ΔarnT","t":1320,"y":0.119},{"s":"ΔarnT","t":1340,"y":0.119},{"s":"ΔarnT","t":1360,"y":0.118},{"s":"ΔarnT","t":1380,"y":0.118},{"s":"ΔarnT","t":1400,"y":0.118},{"s":"ΔarnT","t":1420,"y":0.118},{"s":"ΔarnT","t":1440,"y":0.118},
{"s":"ATCC13047","t":0,"y":0.18},{"s":"ATCC13047","t":20,"y":0.194},{"s":"ATCC13047","t":40,"y":0.205},{"s":"ATCC13047","t":60,"y":0.211},{"s":"ATCC13047","t":80,"y":0.222},{"s":"ATCC13047","t":100,"y":0.254},{"s":"ATCC13047","t":120,"y":0.29},{"s":"ATCC13047","t":140,"y":0.369},{"s":"ATCC13047","t":160,"y":0.457},{"s":"ATCC13047","t":180,"y":0.52},{"s":"ATCC13047","t":200,"y":0.565},{"s":"ATCC13047","t":220,"y":0.59},{"s":"ATCC13047","t":240,"y":0.605},{"s":"ATCC13047","t":260,"y":0.61},{"s":"ATCC13047","t":280,"y":0.605},{"s":"ATCC13047","t":300,"y":0.6},{"s":"ATCC13047","t":320,"y":0.6},{"s":"ATCC13047","t":340,"y":0.6},{"s":"ATCC13047","t":360,"y":0.6},{"s":"ATCC13047","t":380,"y":0.6},{"s":"ATCC13047","t":400,"y":0.6},{"s":"ATCC13047","t":420,"y":0.6},{"s":"ATCC13047","t":440,"y":0.595},{"s":"ATCC13047","t":460,"y":0.59},{"s":"ATCC13047","t":480,"y":0.585},{"s":"ATCC13047","t":500,"y":0.58},{"s":"ATCC13047","t":520,"y":0.57},{"s":"ATCC13047","t":540,"y":0.56},{"s":"ATCC13047","t":560,"y":0.55},{"s":"ATCC13047","t":580,"y":0.545},{"s":"ATCC13047","t":600,"y":0.536},{"s":"ATCC13047","t":620,"y":0.525},{"s":"ATCC13047","t":640,"y":0.515},{"s":"ATCC13047","t":660,"y":0.505},{"s":"ATCC13047","t":680,"y":0.495},{"s":"ATCC13047","t":700,"y":0.487},{"s":"ATCC13047","t":720,"y":0.48},{"s":"ATCC13047","t":740,"y":0.475},{"s":"ATCC13047","t":760,"y":0.468},{"s":"ATCC13047","t":780,"y":0.462},{"s":"ATCC13047","t":800,"y":0.457},{"s":"ATCC13047","t":820,"y":0.452},{"s":"ATCC13047","t":840,"y":0.447},{"s":"ATCC13047","t":860,"y":0.442},{"s":"ATCC13047","t":880,"y":0.438},{"s":"ATCC13047","t":900,"y":0.433},{"s":"ATCC13047","t":920,"y":0.428},{"s":"ATCC13047","t":940,"y":0.423},{"s":"ATCC13047","t":960,"y":0.418},{"s":"ATCC13047","t":980,"y":0.414},{"s":"ATCC13047","t":1000,"y":0.41},{"s":"ATCC13047","t":1020,"y":0.405},{"s":"ATCC13047","t":1040,"y":0.4},{"s":"ATCC13047","t":1060,"y":0.395},{"s":"ATCC13047","t":1080,"y":0.39},{"s":"ATCC13047","t":1100,"y":0.385},{"s":"ATCC13047","t":1120,"y":0.381},{"s":"ATCC13047","t":1140,"y":0.377},{"s":"ATCC13047","t":1160,"y":0.373},{"s":"ATCC13047","t":1180,"y":0.369},{"s":"ATCC13047","t":1200,"y":0.365},{"s":"ATCC13047","t":1220,"y":0.362},{"s":"ATCC13047","t":1240,"y":0.36},{"s":"ATCC13047","t":1260,"y":0.357},{"s":"ATCC13047","t":1280,"y":0.354},{"s":"ATCC13047","t":1300,"y":0.35},{"s":"ATCC13047","t":1320,"y":0.346},{"s":"ATCC13047","t":1340,"y":0.342},{"s":"ATCC13047","t":1360,"y":0.339},{"s":"ATCC13047","t":1380,"y":0.336},{"s":"ATCC13047","t":1400,"y":0.333},{"s":"ATCC13047","t":1420,"y":0.33},{"s":"ATCC13047","t":1440,"y":0.327}
],
"survival":[
{"g":"WT","mean":0.0002,"lo":0.0002,"hi":0.000245},
{"g":"ΔphoPQ","mean":0.0000043,"lo":0.0000043,"hi":0.0000105},
{"g":"ΔphoPQ pphoPQ","mean":0.00011,"lo":0.00011,"hi":0.000125},
{"g":"ΔarnT","mean":0.0000005,"lo":0.0000005,"hi":0.0000013},
{"g":"ΔmgrB","mean":0.3,"lo":0.3,"hi":0.37}
],
"replicates":[
{"g":"WT","rep":1,"value":0.000178},{"g":"WT","rep":2,"value":0.00026},{"g":"WT","rep":3,"value":0.0002},
{"g":"ΔphoPQ","rep":1,"value":0.0000029},{"g":"ΔphoPQ","rep":2,"value":0.0000094},{"g":"ΔphoPQ","rep":3,"value":0.0000029},
{"g":"ΔphoPQ pphoPQ","rep":1,"value":0.000087},{"g":"ΔphoPQ pphoPQ","rep":2,"value":0.000122},{"g":"ΔphoPQ pphoPQ","rep":3,"value":0.000122},
{"g":"ΔarnT","rep":1,"value":0.00000025},{"g":"ΔarnT","rep":2,"value":0.0000012},{"g":"ΔarnT","rep":3,"value":0.00000055},
{"g":"ΔmgrB","rep":1,"value":0.215},{"g":"ΔmgrB","rep":2,"value":0.36},{"g":"ΔmgrB","rep":3,"value":0.33}
],
"brackets":[
{"b":1,"g":"WT","v":0.0009,"k":1},{"b":1,"g":"WT","v":0.0023,"k":2},{"b":1,"g":"ΔphoPQ","v":0.0023,"k":3},{"b":1,"g":"ΔphoPQ","v":0.0009,"k":4},
{"b":2,"g":"WT","v":0.0257,"k":1},{"b":2,"g":"WT","v":0.065,"k":2},{"b":2,"g":"ΔphoPQ pphoPQ","v":0.065,"k":3},{"b":2,"g":"ΔphoPQ pphoPQ","v":0.0257,"k":4},
{"b":3,"g":"WT","v":0.73,"k":1},{"b":3,"g":"WT","v":1.82,"k":2},{"b":3,"g":"ΔarnT","v":1.82,"k":3},{"b":3,"g":"ΔarnT","v":0.73,"k":4},
{"b":4,"g":"WT","v":23.5,"k":1},{"b":4,"g":"WT","v":58.4,"k":2},{"b":4,"g":"ΔmgrB","v":58.4,"k":3},{"b":4,"g":"ΔmgrB","v":23.5,"k":4}
],
"stars":[
{"lab":"****","pos":0.5,"v":0.003},{"lab":"ns","pos":1,"v":0.153},{"lab":"****","pos":1.5,"v":2.35},{"lab":"****","pos":2,"v":68}
]
},
"resolve":{"scale":{"color":"independent","shape":"independent"},"legend":{"color":"independent","shape":"independent"}},
"concat":[
{
 "resolve":{"scale":{"color":"independent","shape":"independent"},"legend":{"color":"independent","shape":"independent"}},
 "concat":[
 {
  "width":283,"height":191,
  "title":{"text":"A","fontSize":26,"dx":-48,"offset":-9},
  "data":{"name":"growthA"},
  "resolve":{"axis":{"x":"independent"}},
  "layer":[
   {"mark":{"type":"errorbar","ticks":{"size":4},"thickness":1},
    "encoding":{
     "x":{"field":"t","type":"quantitative","scale":{"domain":[0,1500],"nice":false,"zero":false},"axis":null},
     "y":{"field":"lo","type":"quantitative","scale":{"type":"log","domain":[0.05,1],"nice":false},"axis":{"tickCount":1,"format":"~g","title":"OD₆₀₀ (log scale)","titlePadding":12,"labelFontSize":13,"domainWidth":2,"tickWidth":2,"tickSize":7}},
     "y2":{"field":"hi"},
     "color":{"field":"s","type":"nominal","scale":{"domain":["ATCC13047","ΔphoPQ","ΔphoPQ pphoPQ"],"range":["#000000","#0000ff","#ff0000"]}}}},
   {"mark":{"type":"line","strokeWidth":1.5},
    "encoding":{
     "x":{"field":"t","type":"quantitative","scale":{"domain":[0,1500],"nice":false,"zero":false},"axis":null},
     "y":{"field":"y","type":"quantitative","scale":{"type":"log","domain":[0.05,1],"nice":false},"axis":{"tickCount":1,"format":"~g","title":"OD₆₀₀ (log scale)","titlePadding":12,"labelFontSize":13,"domainWidth":2,"tickWidth":2,"tickSize":7}},
     "color":{"field":"s","type":"nominal","scale":{"domain":["ATCC13047","ΔphoPQ","ΔphoPQ pphoPQ"],"range":["#000000","#0000ff","#ff0000"]}}}},
   {"transform":[{"filter":"datum.s === 'ΔphoPQ'"}],
    "mark":{"type":"point","filled":true,"size":36,"opacity":1,"shape":"circle"},
    "encoding":{
     "x":{"field":"t","type":"quantitative","scale":{"domain":[0,1500],"nice":false,"zero":false},"axis":{"orient":"bottom","tickCount":3,"format":"d","title":"minutes","titlePadding":7,"labelFlush":false,"domainWidth":2,"tickWidth":2,"tickSize":7}},
     "y":{"field":"y","type":"quantitative","scale":{"type":"log","domain":[0.05,1],"nice":false},"axis":{"tickCount":1,"format":"~g","title":"OD₆₀₀ (log scale)","titlePadding":12,"labelFontSize":13,"domainWidth":2,"tickWidth":2,"tickSize":7}},
     "color":{"field":"s","type":"nominal","scale":{"domain":["ATCC13047","ΔphoPQ","ΔphoPQ pphoPQ"],"range":["#000000","#0000ff","#ff0000"]},
      "legend":{"title":null,"orient":"none","legendX":15,"legendY":-31,"direction":"horizontal","columns":2,"gridAlign":"each","columnPadding":29,"rowPadding":1,"symbolSize":484,"symbolStrokeWidth":2,"labelFontSize":14.5,"labelOffset":10,"labelLimit":300,
       "symbolType":{"expr":"datum.value === 'ATCC13047' ? 'M-1,0H1M0,-0.34L0.34,0.26L-0.34,0.26Z' : datum.value === 'ΔphoPQ' ? 'M-1,0H1M0.3,0A0.3,0.3 0 1,1 -0.3,0A0.3,0.3 0 1,1 0.3,0Z' : 'M-1,0H1M-0.3,-0.3H0.3V0.3H-0.3Z'"},
       "symbolStrokeColor":{"expr":"datum.value === 'ATCC13047' ? '#000000' : datum.value === 'ΔphoPQ' ? '#0000ff' : '#ff0000'"},
       "labelFontStyle":{"expr":"datum.value === 'ATCC13047' ? 'normal' : 'italic'"}}}}},
   {"transform":[{"filter":"datum.s === 'ATCC13047'"}],
    "mark":{"type":"point","filled":true,"size":36,"opacity":1,"shape":"triangle-up"},
    "encoding":{
     "x":{"field":"t","type":"quantitative","scale":{"domain":[0,1500],"nice":false,"zero":false},"axis":null},
     "y":{"field":"y","type":"quantitative","scale":{"type":"log","domain":[0.05,1],"nice":false},"axis":{"tickCount":1,"format":"~g","title":"OD₆₀₀ (log scale)","titlePadding":12,"labelFontSize":13,"domainWidth":2,"tickWidth":2,"tickSize":7}},
     "color":{"field":"s","type":"nominal","scale":{"domain":["ATCC13047","ΔphoPQ","ΔphoPQ pphoPQ"],"range":["#000000","#0000ff","#ff0000"]}}}},
   {"transform":[{"filter":"datum.s === 'ΔphoPQ pphoPQ'"}],
    "mark":{"type":"point","filled":true,"size":40,"opacity":1,"shape":"square"},
    "encoding":{
     "x":{"field":"t","type":"quantitative","scale":{"domain":[0,1500],"nice":false,"zero":false},"axis":null},
     "y":{"field":"y","type":"quantitative","scale":{"type":"log","domain":[0.05,1],"nice":false},"axis":{"tickCount":1,"format":"~g","title":"OD₆₀₀ (log scale)","titlePadding":12,"labelFontSize":13,"domainWidth":2,"tickWidth":2,"tickSize":7}},
     "color":{"field":"s","type":"nominal","scale":{"domain":["ATCC13047","ΔphoPQ","ΔphoPQ pphoPQ"],"range":["#000000","#0000ff","#ff0000"]}}}},
   {"data":{"name":"one"},"mark":{"type":"rule","color":"black","strokeWidth":2},
    "encoding":{
     "x":{"datum":0,"type":"quantitative","scale":{"domain":[0,1500],"nice":false,"zero":false},"axis":null},
     "y":{"datum":0.05,"type":"quantitative","scale":{"type":"log","domain":[0.05,1],"nice":false},"axis":{"tickCount":1,"format":"~g","title":"OD₆₀₀ (log scale)","titlePadding":12,"labelFontSize":13,"domainWidth":2,"tickWidth":2,"tickSize":7}},
     "y2":{"datum":1}}},
   {"data":{"name":"one"},"mark":{"type":"rule","color":"black","strokeWidth":2},
    "encoding":{
     "x":{"datum":-1,"type":"quantitative","scale":{"domain":[0,1500],"nice":false,"zero":false},"axis":null},
     "x2":{"datum":1500},
     "y":{"datum":0.05,"type":"quantitative","scale":{"type":"log","domain":[0.05,1],"nice":false},"axis":{"tickCount":1,"format":"~g","title":"OD₆₀₀ (log scale)","titlePadding":12,"labelFontSize":13,"domainWidth":2,"tickWidth":2,"tickSize":7}}}},
   {"data":{"name":"odTicks"},"mark":{"type":"rule","color":"black","strokeWidth":2},
    "encoding":{
     "x":{"datum":0,"type":"quantitative","scale":{"domain":[0,1500],"nice":false,"zero":false},"axis":null},
     "x2":{"datum":-37},
     "y":{"field":"v","type":"quantitative","scale":{"type":"log","domain":[0.05,1],"nice":false},"axis":{"tickCount":1,"format":"~g","title":"OD₆₀₀ (log scale)","titlePadding":12,"labelFontSize":13,"domainWidth":2,"tickWidth":2,"tickSize":7}}}},
   {"data":{"name":"majorTicks"},"mark":{"type":"rule","color":"black","strokeWidth":2},
    "encoding":{
     "x":{"field":"t","type":"quantitative","scale":{"domain":[0,1500],"nice":false,"zero":false},"axis":null},
     "y":{"datum":0.05,"type":"quantitative","scale":{"type":"log","domain":[0.05,1],"nice":false},"axis":{"tickCount":1,"format":"~g","title":"OD₆₀₀ (log scale)","titlePadding":12,"labelFontSize":13,"domainWidth":2,"tickWidth":2,"tickSize":7}},
     "y2":{"datum":0.0447}}},
   {"data":{"name":"minorTicks"},"mark":{"type":"rule","color":"black","strokeWidth":1.5},
    "encoding":{
     "x":{"field":"t","type":"quantitative","scale":{"domain":[0,1500],"nice":false,"zero":false},"axis":null},
     "y":{"datum":0.05,"type":"quantitative","scale":{"type":"log","domain":[0.05,1],"nice":false},"axis":{"tickCount":1,"format":"~g","title":"OD₆₀₀ (log scale)","titlePadding":12,"labelFontSize":13,"domainWidth":2,"tickWidth":2,"tickSize":7}},
     "y2":{"datum":0.0469}}}
  ]
 },
 {
  "width":281,"height":186,
  "title":{"text":"C","fontSize":25,"dx":-51,"offset":-16},
  "data":{"name":"growthC"},
  "resolve":{"axis":{"x":"independent"}},
  "layer":[
   {"mark":{"type":"line","strokeWidth":2},
    "encoding":{
     "x":{"field":"t","type":"quantitative","scale":{"domain":[0,1500],"nice":false,"zero":false},"axis":null},
     "y":{"field":"y","type":"quantitative","scale":{"type":"log","domain":[0.05,1],"nice":false},"axis":{"tickCount":1,"format":"~g","title":"OD₆₀₀ (log scale)","titlePadding":12,"labelFontSize":13,"domainWidth":2,"tickWidth":2,"tickSize":7}},
     "color":{"field":"s","type":"nominal","scale":{"domain":["pHERD","pmgrB"],"range":["#000000","#ff0000"]}}}},
   {"mark":{"type":"point","filled":true,"size":45,"opacity":1,"shape":"circle"},
    "encoding":{
     "x":{"field":"t","type":"quantitative","scale":{"domain":[0,1500],"nice":false,"zero":false},"axis":{"orient":"bottom","tickCount":3,"format":"d","title":"minutes","titlePadding":7,"labelFlush":false,"domainWidth":2,"tickWidth":2,"tickSize":7}},
     "y":{"field":"y","type":"quantitative","scale":{"type":"log","domain":[0.05,1],"nice":false},"axis":{"tickCount":1,"format":"~g","title":"OD₆₀₀ (log scale)","titlePadding":12,"labelFontSize":13,"domainWidth":2,"tickWidth":2,"tickSize":7}},
     "color":{"field":"s","type":"nominal","scale":{"domain":["pHERD","pmgrB"],"range":["#000000","#ff0000"]},
      "legend":{"title":null,"orient":"none","legendX":44,"legendY":-26,"direction":"horizontal","columns":2,"gridAlign":"each","columnPadding":41,"symbolSize":900,"symbolStrokeWidth":1,"labelFontSize":15,"labelOffset":3,
       "symbolType":{"expr":"datum.value === 'pHERD' ? 'M-0.5,0A0.24,0.24 0 1,1 -0.98,0A0.24,0.24 0 1,1 -0.5,0ZM-0.38,-0.24H0.76A0.24,0.24 0 0,1 0.76,0.24H-0.38Z' : 'M-0.5,0A0.24,0.24 0 1,1 -0.98,0A0.24,0.24 0 1,1 -0.5,0ZM0.22,0A0.2,0.2 0 1,1 -0.18,0A0.2,0.2 0 1,1 0.22,0ZM0.76,0A0.24,0.24 0 1,1 0.28,0A0.24,0.24 0 1,1 0.76,0Z'"},
       "symbolStrokeColor":{"expr":"datum.value === 'pHERD' ? '#000000' : '#ff0000'"},
       "labelFontStyle":{"expr":"datum.value === 'pHERD' ? 'normal' : 'italic'"}}}}},
   {"data":{"name":"one"},"mark":{"type":"rule","color":"black","strokeWidth":2},
    "encoding":{
     "x":{"datum":0,"type":"quantitative","scale":{"domain":[0,1500],"nice":false,"zero":false},"axis":null},
     "y":{"datum":0.05,"type":"quantitative","scale":{"type":"log","domain":[0.05,1],"nice":false},"axis":{"tickCount":1,"format":"~g","title":"OD₆₀₀ (log scale)","titlePadding":12,"labelFontSize":13,"domainWidth":2,"tickWidth":2,"tickSize":7}},
     "y2":{"datum":1}}},
   {"data":{"name":"one"},"mark":{"type":"rule","color":"black","strokeWidth":2},
    "encoding":{
     "x":{"datum":-1,"type":"quantitative","scale":{"domain":[0,1500],"nice":false,"zero":false},"axis":null},
     "x2":{"datum":1500},
     "y":{"datum":0.05,"type":"quantitative","scale":{"type":"log","domain":[0.05,1],"nice":false},"axis":{"tickCount":1,"format":"~g","title":"OD₆₀₀ (log scale)","titlePadding":12,"labelFontSize":13,"domainWidth":2,"tickWidth":2,"tickSize":7}}}},
   {"data":{"name":"odTicks"},"mark":{"type":"rule","color":"black","strokeWidth":2},
    "encoding":{
     "x":{"datum":0,"type":"quantitative","scale":{"domain":[0,1500],"nice":false,"zero":false},"axis":null},
     "x2":{"datum":-37},
     "y":{"field":"v","type":"quantitative","scale":{"type":"log","domain":[0.05,1],"nice":false},"axis":{"tickCount":1,"format":"~g","title":"OD₆₀₀ (log scale)","titlePadding":12,"labelFontSize":13,"domainWidth":2,"tickWidth":2,"tickSize":7}}}},
   {"data":{"name":"majorTicks"},"mark":{"type":"rule","color":"black","strokeWidth":2},
    "encoding":{
     "x":{"field":"t","type":"quantitative","scale":{"domain":[0,1500],"nice":false,"zero":false},"axis":null},
     "y":{"datum":0.05,"type":"quantitative","scale":{"type":"log","domain":[0.05,1],"nice":false},"axis":{"tickCount":1,"format":"~g","title":"OD₆₀₀ (log scale)","titlePadding":12,"labelFontSize":13,"domainWidth":2,"tickWidth":2,"tickSize":7}},
     "y2":{"datum":0.0447}}},
   {"data":{"name":"minorTicks"},"mark":{"type":"rule","color":"black","strokeWidth":1.5},
    "encoding":{
     "x":{"field":"t","type":"quantitative","scale":{"domain":[0,1500],"nice":false,"zero":false},"axis":null},
     "y":{"datum":0.05,"type":"quantitative","scale":{"type":"log","domain":[0.05,1],"nice":false},"axis":{"tickCount":1,"format":"~g","title":"OD₆₀₀ (log scale)","titlePadding":12,"labelFontSize":13,"domainWidth":2,"tickWidth":2,"tickSize":7}},
     "y2":{"datum":0.0469}}}
  ]
 }
 ],
 "columns":1,"align":"none","spacing":8
},
{
 "resolve":{"scale":{"color":"independent","shape":"independent"},"legend":{"color":"independent","shape":"independent"}},
 "concat":[
 {
  "width":292,"height":201,
  "title":{"text":"B","fontSize":24,"dx":-62,"offset":-42},
  "resolve":{"scale":{"x":"independent"},"axis":{"x":"independent"}},
  "layer":[
     {"data":{"name":"survival"},"mark":{"type":"bar","fill":"white","stroke":"black","strokeWidth":3,"width":{"band":0.53}},
      "encoding":{
       "x":{"field":"g","type":"nominal","scale":{"domain":["WT","ΔphoPQ","ΔphoPQ pphoPQ","ΔarnT","ΔmgrB"],"paddingInner":0.1,"paddingOuter":0.116,"align":0.7},
        "axis":{"title":null,"labelAngle":0,"labelFontSize":13,"labelFontStyle":{"condition":{"test":"datum.value==='WT'","value":"normal"},"value":"italic"},"labelExpr":"datum.value==='ΔphoPQ pphoPQ' ? ['ΔphoPQ','pphoPQ'] : datum.label","labelLineHeight":16,"domainWidth":3,"tickWidth":3,"tickSize":7}},
       "y":{"field":"mean","type":"quantitative","scale":{"type":"log","domain":[0.0000001,2.78],"nice":false},
        "axis":{"tickCount":7,"labelExpr":"'10' + (datum.value >= 1 ? '⁰' : '⁻' + ['','¹','²','³','⁴','⁵','⁶','⁷'][round(-log(datum.value)/LN10)])","title":"Survival fraction","titleFontSize":17,"titlePadding":7,"labelFontSize":15,"domainWidth":3,"tickWidth":3,"tickSize":7}},
       "y2":{"datum":0.0000001}}},
     {"data":{"name":"survival"},"mark":{"type":"errorbar","ticks":{"size":11,"thickness":2},"thickness":2,"color":"black"},
      "encoding":{
       "x":{"field":"g","type":"nominal","scale":{"domain":["WT","ΔphoPQ","ΔphoPQ pphoPQ","ΔarnT","ΔmgrB"],"paddingInner":0.1,"paddingOuter":0.116,"align":0.7},"axis":null},
       "y":{"field":"lo","type":"quantitative","scale":{"type":"log","domain":[0.0000001,2.78],"nice":false},"axis":{"tickCount":7,"labelExpr":"'10' + (datum.value >= 1 ? '⁰' : '⁻' + ['','¹','²','³','⁴','⁵','⁶','⁷'][round(-log(datum.value)/LN10)])","title":"Survival fraction","titleFontSize":17,"titlePadding":7,"labelFontSize":15,"domainWidth":3,"tickWidth":3,"tickSize":7}},
       "y2":{"field":"hi"}}},
     {"data":{"name":"replicates"},"mark":{"type":"point","shape":"circle","filled":true,"fill":"white","stroke":"black","strokeWidth":2.2,"size":75,"opacity":1},
      "encoding":{
       "x":{"field":"g","type":"nominal","scale":{"domain":["WT","ΔphoPQ","ΔphoPQ pphoPQ","ΔarnT","ΔmgrB"],"paddingInner":0.1,"paddingOuter":0.116,"align":0.7},"axis":null},
       "xOffset":{"field":"rep","type":"nominal","scale":{"paddingOuter":0.83,"paddingInner":0}},
       "y":{"field":"value","type":"quantitative","scale":{"type":"log","domain":[0.0000001,2.78],"nice":false},"axis":{"tickCount":7,"labelExpr":"'10' + (datum.value >= 1 ? '⁰' : '⁻' + ['','¹','²','³','⁴','⁵','⁶','⁷'][round(-log(datum.value)/LN10)])","title":"Survival fraction","titleFontSize":17,"titlePadding":7,"labelFontSize":15,"domainWidth":3,"tickWidth":3,"tickSize":7}}}},
     {"data":{"name":"brackets"},"mark":{"type":"line","color":"black","strokeWidth":2.5},
      "encoding":{
       "x":{"field":"g","type":"nominal","scale":{"domain":["WT","ΔphoPQ","ΔphoPQ pphoPQ","ΔarnT","ΔmgrB"],"paddingInner":0.1,"paddingOuter":0.116,"align":0.7},"axis":null},
       "y":{"field":"v","type":"quantitative","scale":{"type":"log","domain":[0.0000001,2.78],"nice":false},"axis":{"tickCount":7,"labelExpr":"'10' + (datum.value >= 1 ? '⁰' : '⁻' + ['','¹','²','³','⁴','⁵','⁶','⁷'][round(-log(datum.value)/LN10)])","title":"Survival fraction","titleFontSize":17,"titlePadding":7,"labelFontSize":15,"domainWidth":3,"tickWidth":3,"tickSize":7}},
       "detail":{"field":"b"},
       "order":{"field":"k"}}},
   {"data":{"name":"stars"},"transform":[{"filter":"datum.lab !== 'ns'"}],
    "mark":{"type":"text","fontSize":22,"baseline":"alphabetic","align":"center","color":"black"},
    "encoding":{
     "x":{"field":"pos","type":"quantitative","scale":{"domain":[-0.6125,4.519],"nice":false,"zero":false},"axis":null},
     "y":{"field":"v","type":"quantitative","scale":{"type":"log","domain":[0.0000001,2.78],"nice":false},"axis":{"tickCount":7,"labelExpr":"'10' + (datum.value >= 1 ? '⁰' : '⁻' + ['','¹','²','³','⁴','⁵','⁶','⁷'][round(-log(datum.value)/LN10)])","title":"Survival fraction","titleFontSize":17,"titlePadding":7,"labelFontSize":15,"domainWidth":3,"tickWidth":3,"tickSize":7}},
     "text":{"field":"lab"}}},
   {"data":{"name":"stars"},"transform":[{"filter":"datum.lab === 'ns'"}],
    "mark":{"type":"text","fontSize":16,"baseline":"alphabetic","align":"center","color":"black"},
    "encoding":{
     "x":{"field":"pos","type":"quantitative","scale":{"domain":[-0.6125,4.519],"nice":false,"zero":false},"axis":null},
     "y":{"field":"v","type":"quantitative","scale":{"type":"log","domain":[0.0000001,2.78],"nice":false},"axis":{"tickCount":7,"labelExpr":"'10' + (datum.value >= 1 ? '⁰' : '⁻' + ['','¹','²','³','⁴','⁵','⁶','⁷'][round(-log(datum.value)/LN10)])","title":"Survival fraction","titleFontSize":17,"titlePadding":7,"labelFontSize":15,"domainWidth":3,"tickWidth":3,"tickSize":7}},
     "text":{"field":"lab"}}},
   {"data":{"name":"one"},"mark":{"type":"rule","color":"black","strokeWidth":3},
    "encoding":{
     "x":{"datum":-0.6125,"type":"quantitative","scale":{"domain":[-0.6125,4.519],"nice":false,"zero":false},"axis":null},
     "y":{"datum":0.0000001,"type":"quantitative","scale":{"type":"log","domain":[0.0000001,2.78],"nice":false},"axis":{"tickCount":7,"labelExpr":"'10' + (datum.value >= 1 ? '⁰' : '⁻' + ['','¹','²','³','⁴','⁵','⁶','⁷'][round(-log(datum.value)/LN10)])","title":"Survival fraction","titleFontSize":17,"titlePadding":7,"labelFontSize":15,"domainWidth":3,"tickWidth":3,"tickSize":7}},
     "y2":{"datum":1}}},
   {"data":{"name":"survTicks"},"mark":{"type":"rule","color":"black","strokeWidth":3},
    "encoding":{
     "x":{"datum":-0.6125,"type":"quantitative","scale":{"domain":[-0.6125,4.519],"nice":false,"zero":false},"axis":null},
     "x2":{"datum":-0.7355},
     "y":{"field":"v","type":"quantitative","scale":{"type":"log","domain":[0.0000001,2.78],"nice":false},"axis":{"tickCount":7,"labelExpr":"'10' + (datum.value >= 1 ? '⁰' : '⁻' + ['','¹','²','³','⁴','⁵','⁶','⁷'][round(-log(datum.value)/LN10)])","title":"Survival fraction","titleFontSize":17,"titlePadding":7,"labelFontSize":15,"domainWidth":3,"tickWidth":3,"tickSize":7}}}}
  ]
 },
 {
  "width":284,"height":187,
  "title":{"text":"D","fontSize":25,"dx":-44,"offset":-29},
  "data":{"name":"growthD"},
  "resolve":{"axis":{"x":"independent"}},
  "layer":[
   {"mark":{"type":"line","strokeWidth":1.5},
    "encoding":{
     "x":{"field":"t","type":"quantitative","scale":{"domain":[0,1500],"nice":false,"zero":false},"axis":null},
     "y":{"field":"y","type":"quantitative","scale":{"type":"log","domain":[0.05,1],"nice":false},"axis":{"tickCount":1,"format":"~g","title":"OD₆₀₀ (log scale)","titlePadding":7,"labelFontSize":13,"domainWidth":2,"tickWidth":2,"tickSize":7}},
     "color":{"field":"s","type":"nominal","scale":{"domain":["ATCC13047","ΔphoPQ","ΔarnT","ΔpagP","ΔarnT ΔpagP"],"range":["#000000","#0000ff","#ff0000","#a5744a","#00ff00"]}}}},
   {"transform":[{"filter":"datum.s === 'ΔphoPQ' || datum.s === 'ΔarnT ΔpagP'"}],
    "mark":{"type":"point","filled":true,"size":40,"opacity":1,"shape":"square"},
    "encoding":{
     "x":{"field":"t","type":"quantitative","scale":{"domain":[0,1500],"nice":false,"zero":false},"axis":null},
     "y":{"field":"y","type":"quantitative","scale":{"type":"log","domain":[0.05,1],"nice":false},"axis":{"tickCount":1,"format":"~g","title":"OD₆₀₀ (log scale)","titlePadding":7,"labelFontSize":13,"domainWidth":2,"tickWidth":2,"tickSize":7}},
     "color":{"field":"s","type":"nominal","scale":{"domain":["ATCC13047","ΔphoPQ","ΔarnT","ΔpagP","ΔarnT ΔpagP"],"range":["#000000","#0000ff","#ff0000","#a5744a","#00ff00"]}}}},
   {"transform":[{"filter":"datum.s === 'ΔpagP'"}],
    "mark":{"type":"point","filled":true,"size":40,"opacity":1,"shape":"triangle-up"},
    "encoding":{
     "x":{"field":"t","type":"quantitative","scale":{"domain":[0,1500],"nice":false,"zero":false},"axis":null},
     "y":{"field":"y","type":"quantitative","scale":{"type":"log","domain":[0.05,1],"nice":false},"axis":{"tickCount":1,"format":"~g","title":"OD₆₀₀ (log scale)","titlePadding":7,"labelFontSize":13,"domainWidth":2,"tickWidth":2,"tickSize":7}},
     "color":{"field":"s","type":"nominal","scale":{"domain":["ATCC13047","ΔphoPQ","ΔarnT","ΔpagP","ΔarnT ΔpagP"],"range":["#000000","#0000ff","#ff0000","#a5744a","#00ff00"]}}}},
   {"transform":[{"filter":"datum.s === 'ATCC13047' || datum.s === 'ΔarnT'"}],
    "mark":{"type":"point","filled":true,"size":45,"opacity":1,"shape":"circle"},
    "encoding":{
     "x":{"field":"t","type":"quantitative","scale":{"domain":[0,1500],"nice":false,"zero":false},"axis":{"orient":"bottom","tickCount":3,"format":"d","title":"minutes","titlePadding":6,"labelFlush":false,"domainWidth":2,"tickWidth":2,"tickSize":7}},
     "y":{"field":"y","type":"quantitative","scale":{"type":"log","domain":[0.05,1],"nice":false},"axis":{"tickCount":1,"format":"~g","title":"OD₆₀₀ (log scale)","titlePadding":7,"labelFontSize":13,"domainWidth":2,"tickWidth":2,"tickSize":7}},
     "color":{"field":"s","type":"nominal","scale":{"domain":["ATCC13047","ΔphoPQ","ΔarnT","ΔpagP","ΔarnT ΔpagP"],"range":["#000000","#0000ff","#ff0000","#a5744a","#00ff00"]},
      "legend":{"title":null,"orient":"none","legendX":7,"legendY":-49,"direction":"horizontal","columns":3,"gridAlign":"each","columnPadding":5,"rowPadding":5,"symbolSize":484,"symbolStrokeWidth":2,"labelFontSize":15,"labelOffset":9,"labelLimit":300,
       "symbolType":{"expr":"(datum.value === 'ATCC13047' || datum.value === 'ΔarnT') ? 'M-1,0H1M0.3,0A0.3,0.3 0 1,1 -0.3,0A0.3,0.3 0 1,1 0.3,0Z' : datum.value === 'ΔpagP' ? 'M-1,0H1M0,-0.34L0.34,0.26L-0.34,0.26Z' : 'M-1,0H1M-0.3,-0.3H0.3V0.3H-0.3Z'"},
       "symbolStrokeColor":{"expr":"datum.value === 'ATCC13047' ? '#000000' : datum.value === 'ΔphoPQ' ? '#0000ff' : datum.value === 'ΔarnT' ? '#ff0000' : datum.value === 'ΔpagP' ? '#a5744a' : '#00ff00'"},
       "labelFontStyle":{"expr":"datum.value === 'ATCC13047' ? 'normal' : 'italic'"}}}}},
   {"data":{"name":"one"},"mark":{"type":"rule","color":"black","strokeWidth":2},
    "encoding":{
     "x":{"datum":0,"type":"quantitative","scale":{"domain":[0,1500],"nice":false,"zero":false},"axis":null},
     "y":{"datum":0.05,"type":"quantitative","scale":{"type":"log","domain":[0.05,1],"nice":false},"axis":{"tickCount":1,"format":"~g","title":"OD₆₀₀ (log scale)","titlePadding":7,"labelFontSize":13,"domainWidth":2,"tickWidth":2,"tickSize":7}},
     "y2":{"datum":1}}},
   {"data":{"name":"one"},"mark":{"type":"rule","color":"black","strokeWidth":2},
    "encoding":{
     "x":{"datum":-1,"type":"quantitative","scale":{"domain":[0,1500],"nice":false,"zero":false},"axis":null},
     "x2":{"datum":1500},
     "y":{"datum":0.05,"type":"quantitative","scale":{"type":"log","domain":[0.05,1],"nice":false},"axis":{"tickCount":1,"format":"~g","title":"OD₆₀₀ (log scale)","titlePadding":7,"labelFontSize":13,"domainWidth":2,"tickWidth":2,"tickSize":7}}}},
   {"data":{"name":"odTicks"},"mark":{"type":"rule","color":"black","strokeWidth":2},
    "encoding":{
     "x":{"datum":0,"type":"quantitative","scale":{"domain":[0,1500],"nice":false,"zero":false},"axis":null},
     "x2":{"datum":-37},
     "y":{"field":"v","type":"quantitative","scale":{"type":"log","domain":[0.05,1],"nice":false},"axis":{"tickCount":1,"format":"~g","title":"OD₆₀₀ (log scale)","titlePadding":7,"labelFontSize":13,"domainWidth":2,"tickWidth":2,"tickSize":7}}}},
   {"data":{"name":"majorTicks"},"mark":{"type":"rule","color":"black","strokeWidth":2},
    "encoding":{
     "x":{"field":"t","type":"quantitative","scale":{"domain":[0,1500],"nice":false,"zero":false},"axis":null},
     "y":{"datum":0.05,"type":"quantitative","scale":{"type":"log","domain":[0.05,1],"nice":false},"axis":{"tickCount":1,"format":"~g","title":"OD₆₀₀ (log scale)","titlePadding":7,"labelFontSize":13,"domainWidth":2,"tickWidth":2,"tickSize":7}},
     "y2":{"datum":0.0447}}},
   {"data":{"name":"minorTicks"},"mark":{"type":"rule","color":"black","strokeWidth":1.5},
    "encoding":{
     "x":{"field":"t","type":"quantitative","scale":{"domain":[0,1500],"nice":false,"zero":false},"axis":null},
     "y":{"datum":0.05,"type":"quantitative","scale":{"type":"log","domain":[0.05,1],"nice":false},"axis":{"tickCount":1,"format":"~g","title":"OD₆₀₀ (log scale)","titlePadding":7,"labelFontSize":13,"domainWidth":2,"tickWidth":2,"tickSize":7}},
     "y2":{"datum":0.0469}}}
  ]
 }
 ],
 "columns":1,"align":"none","spacing":16
}
],
"columns":2,"align":"none","spacing":12
}
